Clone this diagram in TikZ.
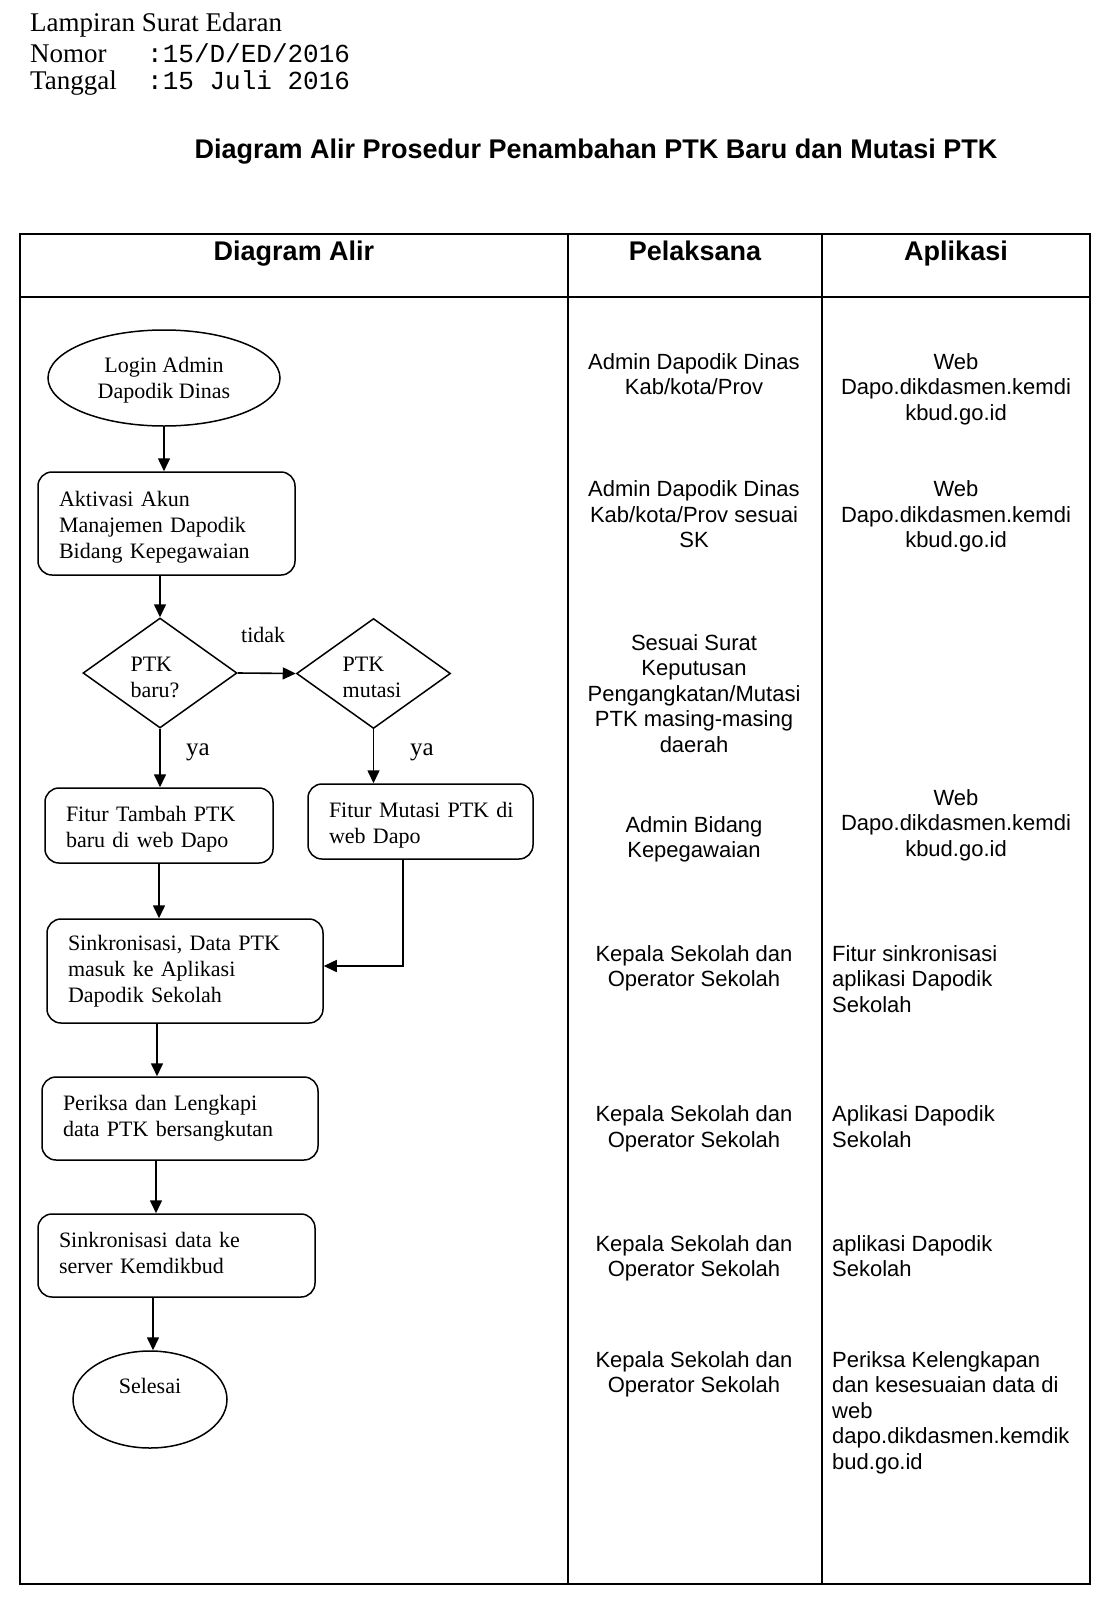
\documentclass[tikz,border=0pt]{standalone}
\usepackage{fontspec}
\setmainfont{Liberation Serif}
\newfontfamily\arialf{Liberation Sans}
\newfontfamily\monof{Liberation Mono}
\usetikzlibrary{shapes.geometric,arrows.meta}
\tikzset{
  flowfont/.style={font=\fontsize{22}{26}\selectfont},
  procbox/.style={draw, line width=1.5pt, rounded corners=14pt, inner xsep=21pt, inner ysep=0pt, align=left, flowfont},
  termnode/.style={draw, ellipse, line width=1.5pt, inner sep=0pt, align=center, flowfont},
  decnode/.style={draw, diamond, line width=1.5pt, inner sep=0pt, align=left, flowfont},
  arr/.style={line width=1.6pt, -{Triangle[length=13pt,width=12pt]}},
  lbl/.style={inner sep=0pt, anchor=base west, flowfont},
  pcell/.style={font=\arialf\fontsize{22}{25.5}\selectfont, inner sep=0pt, anchor=north, align=center},
  acell/.style={font=\arialf\fontsize{22}{25.5}\selectfont, inner sep=0pt, anchor=north west, align=left},
  headtxt/.style={font=\arialf\bfseries\fontsize{27}{30}\selectfont, inner sep=0pt, anchor=base},
  lettxt/.style={font=\fontsize{27}{30}\selectfont, inner sep=0pt, anchor=base west},
  monotxt/.style={font=\monof\fontsize{26}{30}\selectfont, inner sep=0pt, anchor=base west},
  tbl/.style={line width=1.6pt}
}
\begin{document}
\begin{tikzpicture}[x=1pt,y=-1pt]
\fill[white] (0,0) rectangle (1105,1600);
\useasboundingbox (0,0) rectangle (1105,1600);

% letter heading
\node[lettxt] (lamp) at (30,32) {Lampiran Surat Edaran};
\node[lettxt] (nom) at (30,63) {Nomor};
\node[lettxt] (tgl) at (30,90) {Tanggal};
\node[monotxt] (nomv) at (147,63) {:15/D/ED/2016};
\node[monotxt] (tglv) at (147,90) {:15 Juli 2016};

% title
\node[headtxt] (title) at (596,158) {Diagram Alir Prosedur Penambahan PTK Baru dan Mutasi PTK};

% table
\draw[tbl] (20,234) rectangle (1090,1584);
\draw[tbl] (20,297) -- (1090,297);
\draw[tbl] (568,234) -- (568,1584);
\draw[tbl] (822,234) -- (822,1584);
\node[headtxt] (h1) at (294,260) {Diagram Alir};
\node[headtxt] (h2) at (695,260) {Pelaksana};
\node[headtxt] (h3) at (956,260) {Aplikasi};

% flowchart nodes
\node[termnode, minimum width=232pt, minimum height=96pt] (login) at (164,378)
  {\rule{0pt}{19.8pt}Login Admin\\Dapodik Dinas};
\node[procbox, text width=215pt, minimum height=103pt] (aktiv) at (166.5,523.5)
  {\rule{0pt}{21.8pt}Aktivasi Akun\\Manajemen Dapodik\\Bidang Kepegawaian};
\node[decnode, minimum width=154pt, minimum height=110pt] (d1) at (160,673)
  {\rule{0pt}{23pt}PTK\\baru?\hspace*{10pt}};
\node[decnode, minimum width=154pt, minimum height=110pt] (d2) at (373.5,673.5)
  {\rule{0pt}{21.7pt}PTK\\mutasi\hspace*{3pt}};
\node[procbox, text width=186pt, minimum height=75pt] (tambah) at (159,825.5)
  {\rule{0pt}{22.8pt}Fitur Tambah PTK\\baru di web Dapo};
\node[procbox, text width=183pt, minimum height=75pt] (mutasi) at (420.5,821.5)
  {\rule{0pt}{21.8pt}\mbox{Fitur Mutasi PTK di}\\web Dapo};
\node[procbox, text width=234pt, minimum height=104pt] (sink1) at (185,971)
  {Sinkronisasi, Data PTK\\masuk ke Aplikasi\\Dapodik Sekolah};
\node[procbox, text width=234pt, minimum height=83pt] (periksa) at (180,1118.5)
  {Periksa dan Lengkapi\\data PTK bersangkutan};
\node[procbox, text width=235pt, minimum height=83pt] (sink2) at (176.5,1255.5)
  {Sinkronisasi data ke\\server Kemdikbud\rule[-5pt]{0pt}{0pt}};
\node[termnode, minimum width=154pt, minimum height=97pt] (selesai) at (150,1399.5)
  {Selesai\rule[-28pt]{0pt}{0pt}};

% labels
\node[lbl] (tidak) at (241,642) {tidak};
\node[lbl, font=\fontsize{25}{28}\selectfont] (ya1) at (186,755) {ya};
\node[lbl, font=\fontsize{25}{28}\selectfont] (ya2) at (410,755) {ya};

% connectors
\draw[arr] (login.south) -- (login.south |- aktiv.north);
\draw[arr] (d1.north |- aktiv.south) -- (d1.north);
\draw[arr] (d1.east) -- (d2.west);
\draw[arr] (d1.south) -- (d1.south |- tambah.north);
\draw[arr] (d2.south) -- (d2.south |- mutasi.north);
\draw[arr] (tambah.south) -- (tambah.south |- sink1.north);
\coordinate (mb) at (403,966);
\draw[arr] (mutasi.south -| mb) -- (mb) -- (mb -| sink1.east);
\coordinate (xa) at (157,0);
\draw[arr] (sink1.south -| xa) -- (periksa.north -| xa);
\coordinate (xb) at (156,0);
\draw[arr] (periksa.south -| xb) -- (sink2.north -| xb);
\coordinate (xc) at (153,0);
\draw[arr] (sink2.south -| xc) -- (selesai.north -| xc);

% Pelaksana column
\node[pcell] (p1) at (694,353.25) {Admin Dapodik Dinas\\Kab/kota/Prov};
\node[pcell] (p2) at (694,480.75) {Admin Dapodik Dinas\\Kab/kota/Prov sesuai\\SK};
\node[pcell] (p3) at (694,634.25) {Sesuai Surat\\Keputusan\\Pengangkatan/Mutasi\\PTK masing-masing\\daerah};
\node[pcell] (p4) at (694,816.25) {Admin Bidang\\Kepegawaian};
\node[pcell] (p5) at (694,945.25) {Kepala Sekolah dan\\Operator Sekolah};
\node[pcell] (p6) at (694,1105.75) {Kepala Sekolah dan\\Operator Sekolah};
\node[pcell] (p7) at (694,1235.25) {Kepala Sekolah dan\\Operator Sekolah};
\node[pcell] (p8) at (694,1351.25) {Kepala Sekolah dan\\Operator Sekolah};

% Aplikasi column
\node[pcell] (a1) at (956,353.25) {Web\\Dapo.dikdasmen.kemdi\\kbud.go.id};
\node[pcell] (a2) at (956,480.75) {Web\\Dapo.dikdasmen.kemdi\\kbud.go.id};
\node[pcell] (a4) at (956,789.25) {Web\\Dapo.dikdasmen.kemdi\\kbud.go.id};
\node[acell] (a5) at (832,945.25) {Fitur sinkronisasi\\aplikasi Dapodik\\Sekolah};
\node[acell] (a6) at (832,1105.75) {Aplikasi Dapodik\\Sekolah};
\node[acell] (a7) at (832,1235.25) {aplikasi Dapodik\\Sekolah};
\node[acell] (a8) at (832,1351.25) {Periksa Kelengkapan\\dan kesesuaian data di\\web\\dapo.dikdasmen.kemdik\\bud.go.id};
\end{tikzpicture}
\end{document}
